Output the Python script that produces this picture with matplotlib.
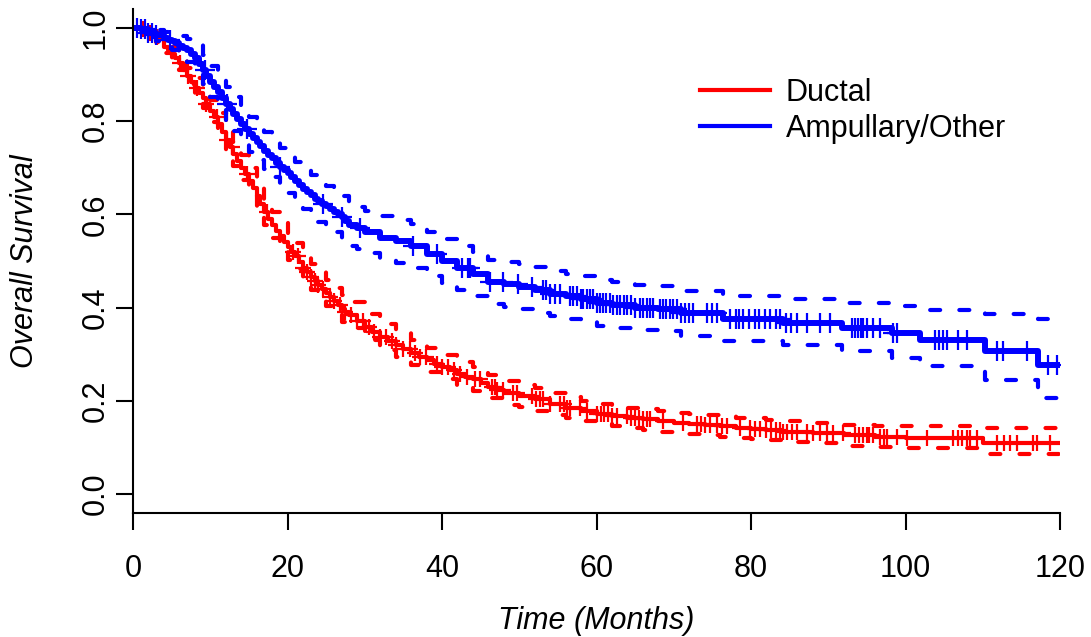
import matplotlib
matplotlib.use('Agg')
import matplotlib.pyplot as plt
from matplotlib.lines import Line2D
import numpy as np

plt.rcParams['font.family'] = ['Liberation Sans', 'DejaVu Sans']

# Ductal (red) Kaplan-Meier estimate
red_t = [0, 1, 2, 3, 4, 4.5, 5, 5.5, 6, 6.5, 7, 7.5, 8, 8.5, 9, 9.5, 10, 10.5,
         11, 11.5, 12, 12.5, 13, 13.5, 14, 14.5, 15, 15.5, 16, 16.5, 17, 17.5,
         18, 18.5, 19, 19.5, 20, 20.5, 21, 21.5, 22, 22.5, 23, 23.5, 24, 24.5,
         25, 25.5, 26, 26.5, 27, 27.5, 28, 29, 30, 31, 32, 33, 34, 35, 36, 37,
         38, 39, 40, 41, 42, 43, 44, 45, 46, 47, 48, 50, 52, 54, 56, 58, 60,
         62, 64, 66, 68, 70, 72, 74, 76, 78, 80, 82, 84, 88, 92, 96, 100, 110]
red_s = [1.0, 0.997, 0.99, 0.98,
         0.96, 0.953, 0.945, 0.935, 0.925, 0.911, 0.897, 0.884, 0.872, 0.861,
         0.85, 0.836, 0.822, 0.808, 0.794, 0.777, 0.76, 0.745, 0.73, 0.715,
         0.70, 0.686, 0.672, 0.656, 0.64, 0.622, 0.605, 0.591, 0.578, 0.565,
         0.553, 0.541, 0.53, 0.52, 0.51, 0.498, 0.486, 0.476, 0.466, 0.457,
         0.448, 0.44, 0.432, 0.423, 0.415, 0.406, 0.398, 0.391, 0.384,
         0.371, 0.358, 0.347, 0.337, 0.328, 0.32, 0.311, 0.303, 0.295, 0.288,
         0.28, 0.273, 0.265, 0.257, 0.252, 0.247, 0.238, 0.23, 0.223, 0.217,
         0.21, 0.203, 0.193, 0.185, 0.178, 0.172, 0.167, 0.163, 0.16, 0.156,
         0.152, 0.15, 0.148, 0.145, 0.142, 0.14, 0.137, 0.134,
         0.131, 0.126, 0.123, 0.121, 0.109]

# Ductal 95% confidence band
red_ci_t = [0, 1, 2, 3, 4, 5, 6, 7, 8, 9, 10, 11, 12, 13, 14, 15, 16, 17, 18,
            19, 20, 21, 22, 23, 24, 25, 26, 27, 28, 30, 32, 34, 36, 38, 40, 42,
            44, 46, 48, 50, 52, 54, 56, 58, 60, 62, 64, 66, 68, 70, 72, 74, 76,
            78, 80, 82, 84, 88, 92, 96, 100, 110]
red_up = [1.0, 1.0, 0.997, 0.99, 0.972, 0.959, 0.941, 0.915, 0.892, 0.871,
          0.845, 0.818, 0.785, 0.756, 0.727, 0.699, 0.668, 0.633, 0.606, 0.581,
          0.558, 0.538, 0.514, 0.494, 0.476, 0.46, 0.443, 0.426, 0.412,
          0.386, 0.364, 0.347, 0.33, 0.314, 0.299, 0.283, 0.272, 0.255, 0.242,
          0.234, 0.227, 0.217, 0.208, 0.2, 0.194,
          0.189, 0.185, 0.182, 0.178, 0.174, 0.172, 0.17, 0.167, 0.164, 0.162,
          0.159, 0.156, 0.153, 0.149, 0.146, 0.145, 0.142]
red_lo = [1.0, 0.993, 0.983, 0.97, 0.947, 0.93, 0.909, 0.879, 0.852, 0.829,
          0.799, 0.77, 0.735, 0.704, 0.673, 0.645, 0.612, 0.577, 0.55, 0.525,
          0.502, 0.482, 0.458, 0.438, 0.42, 0.404, 0.387, 0.37, 0.356,
          0.33, 0.31, 0.293, 0.276, 0.262, 0.247, 0.231, 0.222, 0.205, 0.192,
          0.186, 0.179, 0.169, 0.162, 0.156, 0.15,
          0.145, 0.141, 0.138, 0.134, 0.13, 0.128, 0.126, 0.123, 0.12, 0.118,
          0.115, 0.112, 0.109, 0.103, 0.1, 0.098, 0.086]
red_cens = [1.3, 2.2, 3.1, 6.1, 7.1, 8.3, 9.5, 10.9, 12.2, 12.8, 14.8, 17.3,
            20.7, 21.3, 22, 22.5, 23, 23.5, 24, 24.6, 25.5, 26, 26.8, 27.5,
            28.2, 29, 29.8, 30.5, 31.2, 32, 32.8, 33.5, 34, 35, 35.8, 36.5,
            37.2, 37.9, 39.3, 40, 40.8, 41.5, 42.3, 43.2, 44.3, 44.9, 46.5,
            46.8, 47.1, 47.9, 49.2, 49.7, 51.7, 52.2, 52.7, 53.1, 54, 55.3,
            55.8, 56.2, 56.6, 57.9, 58.8, 60.1, 60.6, 61, 61.5, 62, 62.7, 63.9,
            64.5, 65, 65.5, 66, 66.5, 66.9, 68.6, 71.2, 73, 73.5, 74, 74.7,
            75.6, 76.2, 76.9, 78.6, 79.9, 80.5, 81.2, 82, 82.6, 83.2, 83.8,
            84.1, 84.7, 85.3, 86, 87.2, 88, 88.9, 89.8, 90.6, 91.9, 93.5, 94,
            94.5, 95, 95.3, 95.8, 96.7, 97.2, 97.6, 98.9, 100.2, 102.8, 106.1,
            106.8, 107.3, 107.9, 108.4, 109.3, 111.9, 112.7, 113.5, 114.4,
            116.5, 117, 118.7]

# Ampullary/Other (blue) Kaplan-Meier estimate
blue_t = [0, 1, 2, 3, 4, 4.5, 5, 5.5, 6, 6.5, 7, 7.5, 8, 8.5, 9, 9.5, 10,
          10.5, 11, 11.5, 12, 12.5, 13, 13.5, 14, 14.5, 15, 15.5, 16, 16.5, 17,
          17.5, 18, 18.5, 19, 19.5, 20, 20.5, 21, 21.5, 22, 22.5, 23, 23.5, 24,
          24.5, 25, 25.5, 26, 26.5, 27, 27.5, 28, 29, 30, 32, 34, 36, 38, 40,
          42, 44, 46, 48, 50, 52, 54, 56, 58, 60, 62, 65, 68, 71, 76.4, 84.1,
          91.8, 98.3, 101.9, 110.3, 117.2]
blue_s = [1.0, 0.997, 0.99, 0.985,
          0.978, 0.975, 0.972, 0.967, 0.962, 0.957, 0.952, 0.944, 0.935, 0.922,
          0.91, 0.897, 0.885, 0.873, 0.862, 0.85, 0.838, 0.826, 0.815, 0.805,
          0.795, 0.783, 0.772, 0.763, 0.755, 0.746, 0.737, 0.728, 0.72, 0.711,
          0.702, 0.695, 0.688, 0.68, 0.671, 0.663, 0.655, 0.648, 0.641, 0.634,
          0.628, 0.623, 0.618, 0.612, 0.606, 0.6, 0.594, 0.585, 0.578,
          0.57, 0.562, 0.55, 0.542, 0.532, 0.515, 0.5, 0.485, 0.472, 0.455,
          0.45, 0.445, 0.438, 0.43, 0.424, 0.418, 0.41, 0.406, 0.4, 0.397,
          0.388, 0.375, 0.367, 0.356, 0.345, 0.33, 0.307, 0.277]

# Ampullary/Other 95% confidence band
blue_ci_t = [0, 1, 2, 3, 4, 5, 6, 7, 8, 9, 10, 11, 12, 13, 14, 15, 16, 17, 18,
             19, 20, 21, 22, 23, 24, 25, 26, 27, 28, 29, 30, 32, 34, 36, 38,
             40, 42, 44, 46, 48, 50, 52, 54, 56, 58, 60, 62, 65, 68, 71, 76.4,
             84.1, 91.8, 98.3, 101.9, 110.3, 117.2]
blue_up = [1.0, 1.0, 0.998, 0.996, 0.992, 0.99, 0.983, 0.976, 0.963, 0.942,
           0.918, 0.896, 0.873, 0.851, 0.832, 0.81, 0.794, 0.777, 0.76, 0.743,
           0.73, 0.713, 0.698, 0.684, 0.672, 0.662, 0.65, 0.639, 0.623, 0.615,
           0.607, 0.596, 0.588, 0.579, 0.562, 0.547, 0.532, 0.519, 0.503,
           0.498, 0.494, 0.487, 0.479, 0.473, 0.467, 0.459, 0.456, 0.448,
           0.446, 0.436, 0.425, 0.418, 0.41, 0.403, 0.395, 0.386, 0.375]
blue_lo = [1.0, 0.991, 0.98, 0.972, 0.962, 0.953, 0.94, 0.927, 0.906, 0.879,
           0.852, 0.828, 0.803, 0.779, 0.758, 0.734, 0.716, 0.697, 0.68, 0.661,
           0.646, 0.629, 0.612, 0.598, 0.584, 0.574, 0.562, 0.549, 0.533,
           0.525, 0.517, 0.504, 0.496, 0.485, 0.468, 0.453, 0.438, 0.425,
           0.407, 0.402, 0.396, 0.389, 0.381, 0.375, 0.369, 0.361, 0.356,
           0.352, 0.349, 0.338, 0.328, 0.32, 0.307, 0.292, 0.275, 0.245, 0.206]
blue_cens = [0.5, 1, 1.5, 2, 2.5, 3, 4.8, 9.3, 12.2, 14.8, 19, 24.6, 27.1,
             29.4, 36.2, 39.3, 42.6, 43.4, 43.6, 46.2, 47.9, 49.8, 51.7, 53.1,
             53.5, 54, 54.6, 55.3, 56.6, 57, 57.5, 58, 58.3, 58.8, 59.2, 59.6,
             60, 60.4, 60.8, 61.2, 61.7, 62.1, 62.6, 63, 63.5, 64, 64.5, 65,
             65.6, 66, 66.5, 66.9, 67.3, 68.2, 68.6, 69, 69.5, 69.9, 70.4, 71,
             71.5, 72, 72.5, 74.3, 75, 75.6, 77.3, 78, 78.5, 79, 79.7, 80.5, 81,
             81.8, 82.5, 83.2, 83.8, 84.5, 85.2, 86, 87.2, 88.9, 90.2, 93.1,
             93.5, 93.9, 94.2, 94.5, 95, 95.8, 96.7, 98.4, 98.9, 103.8, 104.3,
             104.8, 105.4, 106.8, 108, 111.8, 112.6, 115.7, 118.4, 119.6]

t_max = 120


def km_step(ax, t, s, color, lw, ls='-'):
    x = list(t) + [t_max]
    y = list(s) + [s[-1]]
    if ls == '-':
        ax.step(x, y, where='post', color=color, lw=lw, solid_capstyle='butt')
    else:
        ax.step(x, y, where='post', color=color, lw=lw,
                linestyle=(0, (2.4, 4.6)), dash_capstyle='round')


def censor_marks(ax, t, s, cens, color, ms):
    idx = np.searchsorted(t, cens, side='right') - 1
    ax.plot(cens, np.array(s)[idx], linestyle='none', marker='+',
            color=color, markersize=ms, markeredgewidth=1.6)


fig = plt.figure(figsize=(10.91, 6.37), dpi=100)
ax = fig.add_axes([133 / 1091, 1 - 512.6 / 637, 927 / 1091, 503.2 / 637])

km_step(ax, red_ci_t, red_up, '#ff0000', 3, '--')
km_step(ax, red_ci_t, red_lo, '#ff0000', 3, '--')
km_step(ax, red_t, red_s, '#ff0000', 3)
censor_marks(ax, red_t, red_s, red_cens, '#ff0000', 12)

km_step(ax, blue_ci_t, blue_up, '#0000ff', 3, '--')
km_step(ax, blue_ci_t, blue_lo, '#0000ff', 3, '--')
km_step(ax, blue_t, blue_s, '#0000ff', 4.3)
censor_marks(ax, blue_t, blue_s, blue_cens, '#0000ff', 15)

ax.set_xlim(0, 120)
ax.set_ylim(-0.04, 1.04)
ax.set_xticks(np.arange(0, 121, 20))
ax.set_yticks(np.arange(0, 1.01, 0.2))
ax.set_yticklabels(['%.1f' % v for v in np.arange(0, 1.01, 0.2)],
                   rotation=90, va='center')
for side in ['top', 'right']:
    ax.spines[side].set_visible(False)
for side in ['left', 'bottom']:
    ax.spines[side].set_linewidth(1.5)
ax.tick_params(direction='out', length=12, width=1.5, labelsize=22)
ax.tick_params(axis='x', pad=17.5)
ax.tick_params(axis='y', pad=4)

fig.text(596.5 / 1091, 1 - 621 / 637, 'Time (Months)', fontsize=22,
         style='italic', ha='center', va='center')
fig.text(25 / 1091, 1 - 261 / 637, 'Overall Survival', fontsize=22,
         style='italic', ha='center', va='center', rotation=90)

handles = [Line2D([], [], color='#ff0000', lw=3),
           Line2D([], [], color='#0000ff', lw=3)]
ax.legend(handles, ['Ductal', 'Ampullary/Other'], loc='upper left',
          bbox_to_anchor=(700 / 1091, 1 - 78 / 637),
          bbox_transform=fig.transFigure, frameon=False, fontsize=22,
          handlelength=2.3, handletextpad=0.5, borderpad=0,
          borderaxespad=0, labelspacing=0.2)

fig.savefig('out.png', dpi=100)
